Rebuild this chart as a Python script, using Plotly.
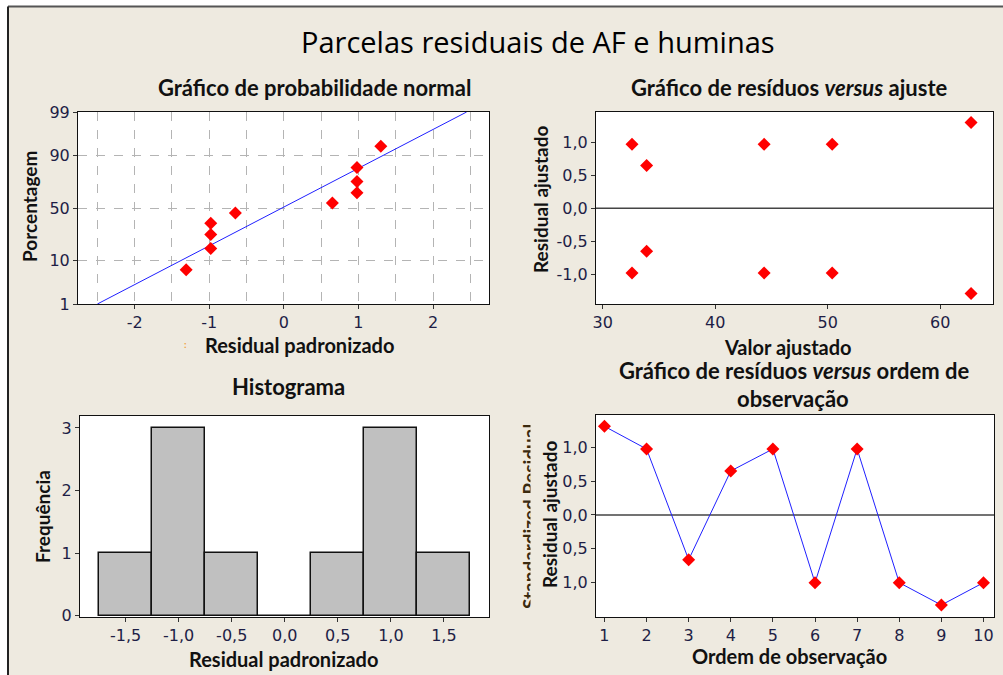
from statistics import NormalDist
import plotly.graph_objects as go

# --- data ---
# normal probability plot
prob_resid = [-1.31, -0.98, -0.98, -0.98, -0.65, 0.65, 0.98, 0.98, 0.98, 1.30]
prob_pct = [6.7, 16.3, 26.0, 35.6, 45.2, 54.8, 64.4, 74.0, 83.7, 93.3]
fit_line_x = [-2.5, 2.45]
fit_line_pct = [1, 99]
pct_ticks = [1, 10, 50, 90, 99]
prob_xticks = [-2, -1, 0, 1, 2]

# residuals versus fits
fitted = [32.6, 33.9, 44.35, 50.4, 62.75, 32.6, 33.9, 44.35, 50.4, 62.75]
fit_resid = [0.97, 0.65, 0.97, 0.97, 1.30, -0.98, -0.65, -0.98, -0.98, -1.29]

# histogram
hist_bins = [-1.5, -1.0, -0.5, 0.0, 0.5, 1.0, 1.5]
hist_counts = [1, 3, 1, 0, 1, 3, 1]
hist_labels = ["-1,5", "-1,0", "-0,5", "0,0", "0,5", "1,0", "1,5"]

# residuals versus order
order = [1, 2, 3, 4, 5, 6, 7, 8, 9, 10]
order_resid = [1.31, 0.975, -0.66, 0.65, 0.975, -1.0, 0.975, -1.0, -1.33, -1.0]

W, H = 1003, 675
BG = "#EEEAE0"
TICKC = "#1E1E46"
nd = NormalDist()


def z(p):
    return nd.inv_cdf(p / 100.0)


def xd(a, b):
    return [a / W, b / W]


def yd(top, bottom):
    return [1 - bottom / H, 1 - top / H]


fig = go.Figure()

# probability plot
fig.add_trace(go.Scatter(x=fit_line_x, y=[z(p) for p in fit_line_pct], mode="lines",
                         line=dict(color="#2020FF", width=1), xaxis="x", yaxis="y"))
fig.add_trace(go.Scatter(x=prob_resid, y=[z(p) for p in prob_pct], mode="markers",
                         marker=dict(symbol="diamond", color="#FF0000", size=10),
                         xaxis="x", yaxis="y"))

# versus fits
fig.add_trace(go.Scatter(x=[29, 66], y=[0, 0], mode="lines",
                         line=dict(color="#444444", width=1.5), xaxis="x2", yaxis="y2"))
fig.add_trace(go.Scatter(x=fitted, y=fit_resid, mode="markers",
                         marker=dict(symbol="diamond", color="#FF0000", size=10),
                         xaxis="x2", yaxis="y2"))

# histogram
fig.add_trace(go.Bar(x=hist_bins, y=hist_counts, width=0.5,
                     marker=dict(color="#C0C0C0", line=dict(color="#111111", width=1.5)),
                     xaxis="x3", yaxis="y3"))

# versus order
fig.add_trace(go.Scatter(x=[0, 11], y=[0, 0], mode="lines",
                         line=dict(color="#444444", width=1.5), xaxis="x4", yaxis="y4"))
fig.add_trace(go.Scatter(x=order, y=order_resid, mode="lines+markers",
                         line=dict(color="#2020FF", width=1),
                         marker=dict(symbol="diamond", color="#FF0000", size=10),
                         xaxis="x4", yaxis="y4"))

frame = dict(showline=True, linecolor="#111111", linewidth=1, mirror=True,
             zeroline=False, ticks="outside", ticklen=4, tickcolor="#333333",
             automargin=False,
             tickfont=dict(family="DejaVu Sans", size=16, color=TICKC), fixedrange=True)
grid = dict(showgrid=True, gridcolor="#B4B4B4", griddash="dash", gridwidth=1)

fig.update_layout(
    width=W, height=H, margin=dict(l=0, r=0, t=0, b=0, pad=0, autoexpand=False),
    paper_bgcolor=BG, plot_bgcolor="white", showlegend=False, bargap=0,
    xaxis=dict(domain=xd(78, 489), range=[-2.76, 2.75], tickvals=prob_xticks,
               ticktext=[str(v) for v in prob_xticks],
               anchor="y", minor=dict(dtick=0.5, tick0=0, showgrid=True,
                                      gridcolor="#B4B4B4", griddash="dash", ticks=""),
               **grid, **frame),
    yaxis=dict(domain=yd(112, 304), range=[z(1), z(99)], tickvals=[z(p) for p in pct_ticks],
               ticktext=[str(p) for p in pct_ticks], anchor="x", **grid, **frame),
    xaxis2=dict(domain=xd(596, 993), range=[29.4, 64.7], tickvals=[30, 40, 50, 60],
                anchor="y2", showgrid=False, **frame),
    yaxis2=dict(domain=yd(112, 304), range=[-1.45, 1.46], tickvals=[-1, -0.5, 0, 0.5, 1],
                ticktext=["-1,0", "-0,5", "0,0", "0,5", "1,0"], anchor="x2",
                showgrid=False, **frame),
    xaxis3=dict(domain=xd(80, 489), range=[-1.93, 1.925], tickvals=hist_bins,
                ticktext=hist_labels, anchor="y3", showgrid=False, **frame),
    yaxis3=dict(domain=yd(416, 617), range=[-0.02, 3.19], tickvals=[0, 1, 2, 3],
                anchor="x3", showgrid=False, **frame),
    xaxis4=dict(domain=xd(596, 994), range=[0.8, 10.25], tickvals=order,
                anchor="y4", showgrid=False, **frame),
    yaxis4=dict(domain=yd(415, 617), range=[-1.507, 1.477], tickvals=[-1, -0.5, 0, 0.5, 1],
                ticktext=["1,0", "0,5", "0,0", "0,5", "1,0"], anchor="x4",
                showgrid=False, **frame),
)

# page background bits: white strip on top / left and the frame border
fig.add_shape(type="rect", xref="paper", yref="paper", x0=0, x1=1, y0=1 - 6 / H, y1=1,
              fillcolor="white", line_width=0, layer="below")
fig.add_shape(type="rect", xref="paper", yref="paper", x0=0, x1=8 / W, y0=0, y1=1,
              fillcolor="white", line_width=0, layer="below")
fig.add_shape(type="line", xref="paper", yref="paper", x0=8 / W, x1=1, y0=1 - 6.5 / H,
              y1=1 - 6.5 / H, line=dict(color="#555555", width=2))
fig.add_shape(type="line", xref="paper", yref="paper", x0=8 / W, x1=8 / W, y0=0,
              y1=1 - 6.5 / H, line=dict(color="#222222", width=2))


def label(text, x, y, size=20, bold=True, angle=0, color="#111111", family="Lato", **kw):
    fig.add_annotation(text=f"<b>{text}</b>" if bold else text, x=x / W, y=1 - y / H,
                       xref="paper", yref="paper", xanchor="center", yanchor="middle",
                       showarrow=False, textangle=angle,
                       font=dict(family=family, size=size, color=color), **kw)


label("Parcelas residuais de AF e huminas", 538, 42, size=29, bold=False,
      family="Open Sans", color="#000000")
label("Gráfico de probabilidade normal", 314, 88, size=22)
label("Gráfico de resíduos <i>versus</i> ajuste", 789, 88, size=22)
label("Histograma", 288, 386, size=22)
label("Gráfico de resíduos <i>versus</i> ordem de", 794, 371, size=22)
label("observação", 793, 398, size=22)

label("Residual padronizado", 299, 345)
label(":", 185, 344, size=10, color="#F0A040")
label("Porcentagem", 30, 207, angle=-90, size=19)
label("Valor ajustado", 788, 347)
label("Residual ajustado", 540, 200, angle=-90, size=19)
label("Residual padronizado", 283, 659)
label("Frequência", 42, 517, angle=-90, size=19)
label("Ordem de observação", 789, 656)

# clipped leftover label behind the last y title
label("Standardized Residual", 529, 517, angle=-90, size=19, color="#3A2A10")
fig.add_annotation(text=" ", x=530 / W, y=1 - 517 / H, xref="paper", yref="paper",
                   xanchor="left", yanchor="middle", showarrow=False, width=12, height=215,
                   bgcolor=BG, borderpad=0)
label("Residual ajustado", 549, 515, angle=-90, size=19)

fig.write_html("out.html", config={"displayModeBar": False},
               post_script="document.body.style.margin='0';"
                           "document.documentElement.style.overflow='hidden';")
